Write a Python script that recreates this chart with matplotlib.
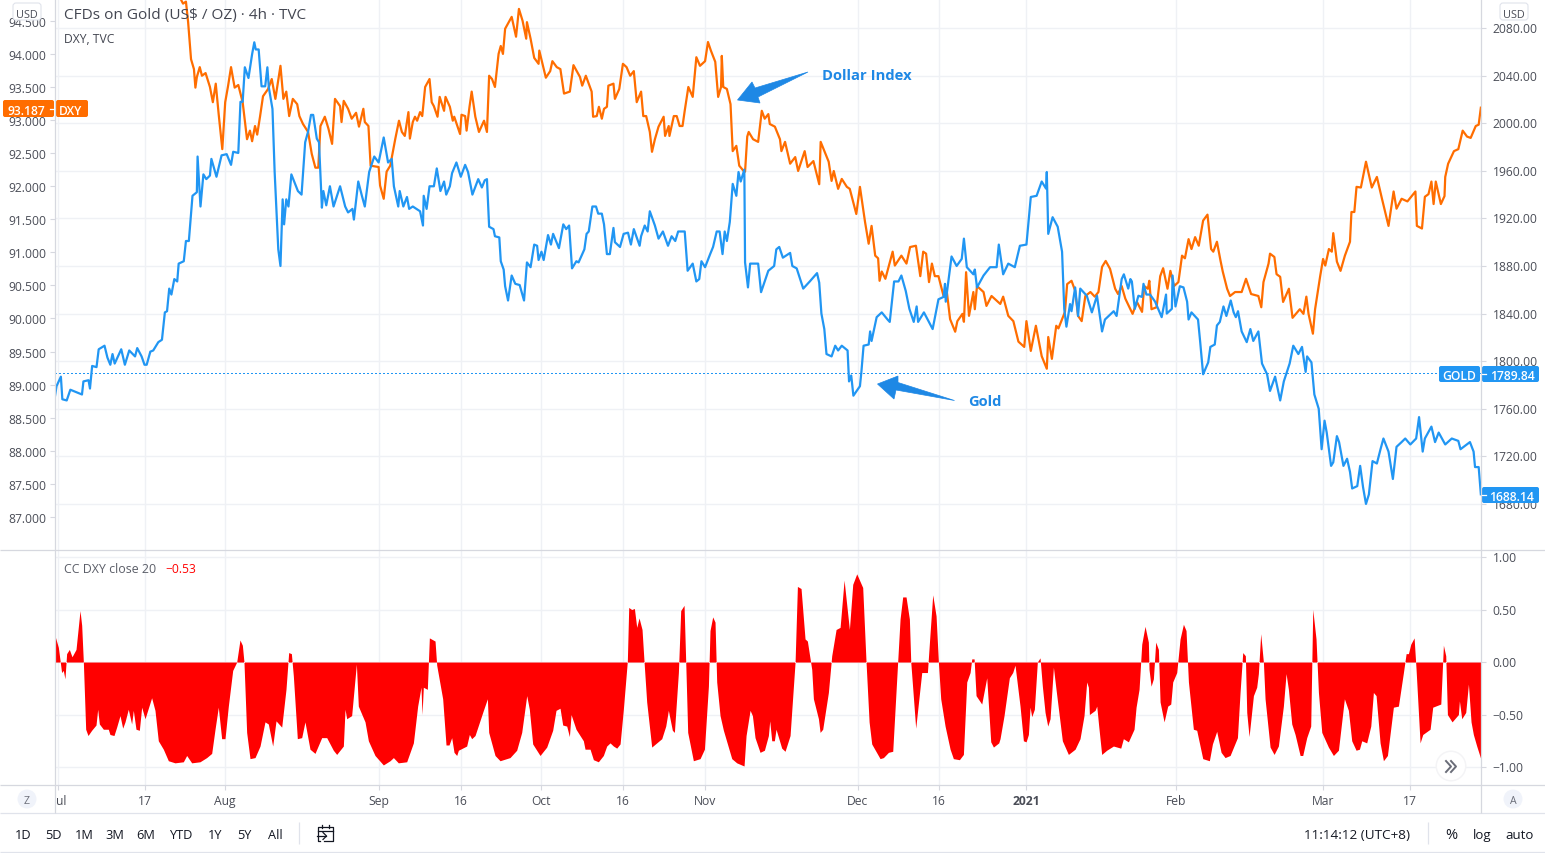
import matplotlib
matplotlib.use("Agg")
import matplotlib.pyplot as plt
from matplotlib.patches import Polygon, Circle, FancyBboxPatch, Rectangle
from matplotlib.transforms import ScaledTranslation

# ---- data: time axis is in trading days counted from 1 Jul 2020 ----
gold_day = [
-0.4,-0.2,0.4,0.6,1.2,1.7,3.3,3.5,4.2,4.4,
4.7,5.3,5.6,6.4,6.8,7.2,7.5,7.8,8.7,9.2,
9.8,10.6,10.9,11.5,11.9,12.2,12.7,13.1,13.8,14.3,
14.7,15.0,15.3,15.6,16.0,16.4,16.6,17.3,17.6,18.0,
18.5,19.1,19.2,19.6,20.0,20.4,20.9,21.1,21.8,22.5,
23.2,23.8,24.1,24.8,25.1,25.4,25.7,26.2,26.7,27.0,
27.2,27.6,28.0,28.5,28.8,29.0,29.5,29.8,30.3,30.6,
30.9,31.1,31.4,31.7,32.1,33.0,33.5,34.0,34.4,34.8,
35.1,35.6,35.9,36.3,36.5,36.9,37.4,37.9,38.8,39.5,
39.9,40.5,40.7,41.3,41.8,42.2,42.8,43.5,44.1,44.8,
45.4,45.9,46.2,46.8,47.0,47.5,48.0,48.3,48.8,49.8,
50.2,50.3,50.7,51.1,51.7,52.1,52.6,53.1,53.4,53.9,
54.2,54.8,55.4,56.0,56.4,57.0,57.8,58.3,58.7,59.0,
59.3,59.9,60.1,60.7,60.9,61.3,61.5,61.9,62.4,62.9,
63.5,64.1,64.5,65.0,65.5,65.9,66.1,66.5,66.8,67.4,
67.8,68.1,68.9,69.5,69.9,70.3,70.7,71.3,71.6,72.4,
72.7,73.0,73.5,74.0,74.3,74.8,75.1,75.5,75.9,76.4,
76.6,77.3,77.8,78.4,78.8,79.2,80.0,80.2,80.7,81.1,
81.4,82.1,82.6,83.2,83.9,84.4,84.9,85.3,86.2,86.6,
87.3,87.8,88.2,88.5,89.0,89.7,90.1,90.6,91.0,91.4,
91.7,92.0,92.4,92.8,93.3,93.6,93.9,94.4,94.5,94.9,
95.2,96.3,96.7,97.7,98.5,98.8,99.2,99.7,100.7,101.0,
101.6,102.5,103.4,104.4,104.7,105.0,105.4,105.7,106.4,106.9,
107.3,107.8,108.6,108.8,109.1,109.4,110.3,110.5,110.8,111.5,
111.7,111.9,112.6,113.3,114.1,114.4,115.0,115.6,116.0,116.6,
117.1,117.7,118.1,118.3,119.1,120.3,121.1,121.8,122.0,122.1,
122.9,123.6,124.3,124.6,125.0,125.9,126.1,126.4,127.3,128.2,
129.1,129.4,130.0,130.7,131.6,132.3,133.2,133.8,134.6,135.3,
135.9,136.0,136.2,136.8,137.5,138.1,138.4,138.7,139.2,139.4,
139.9,140.3,140.6,141.5,142.2,142.9,143.6,144.0,145.2,145.6,
146.3,146.6,147.2,147.5,147.7,148.1,148.6,149.1,149.3,149.7,
150.2,150.9,151.8,152.4,152.5,153.2,153.3,153.7,154.3,154.8,
155.3,155.5,155.9,156.8,157.1,157.5,158.2,158.5,159.1,159.4,
159.8,160.3,160.7,161.3,161.7,162.0,162.3,162.8,163.5,164.0,
164.4,165.1,165.6,166.3,166.7,167.4,168.1,168.6,169.4,169.9,
170.6,171.1,171.6,171.8,172.4,172.8,173.4,173.8,174.2,174.5,
175.1,175.4,175.9,176.2,176.8,177.3,177.7,178.0,178.7,179.1,
179.5,179.9,180.3,180.8,181.4,181.9,182.3,183.0,183.6,184.1,
184.8,185.3,186.0,186.8,187.2,187.7,188.0,188.9,189.4,189.9,
190.8,191.7,192.6,192.9,194.2,194.7,194.9,195.4,195.7]
gold_usd = [
1771,1779,1787,1768,1767,1776,1772,1783,1784,1777,
1796,1795,1810,1813,1803,1797,1806,1798,1810,1797,
1809,1804,1811,1804,1797,1797,1808,1809,1816,1818,
1841,1842,1861,1856,1869,1867,1882,1884,1901,1901,
1939,1942,1972,1930,1957,1953,1956,1970,1955,1973,
1974,1965,1976,1975,2018,2018,2047,2038,2058,2068,
2062,2062,2031,2031,2047,2030,2012,1959,1894,1880,
1936,1915,1936,1930,1957,1943,1940,1984,1993,2007,
2007,1987,1984,1929,1943,1931,1947,1930,1947,1930,
1925,1928,1919,1951,1939,1930,1959,1972,1967,1988,
1967,1970,1947,1930,1943,1930,1938,1928,1930,1926,
1914,1939,1928,1947,1947,1962,1943,1951,1940,1947,
1958,1967,1955,1965,1959,1940,1953,1946,1952,1953,
1913,1911,1905,1904,1884,1877,1863,1851,1872,1865,
1864,1851,1883,1879,1898,1897,1885,1892,1885,1906,
1898,1907,1895,1915,1911,1914,1878,1884,1883,1894,
1907,1909,1930,1930,1924,1924,1915,1890,1890,1912,
1900,1896,1907,1908,1898,1911,1897,1905,1914,1909,
1926,1914,1903,1909,1897,1905,1901,1909,1909,1876,
1882,1867,1869,1884,1879,1890,1896,1909,1909,1890,
1909,1901,1917,1949,1939,1959,1951,1961,1883,1862,
1882,1882,1858,1876,1880,1894,1896,1887,1891,1880,
1878,1861,1867,1874,1866,1840,1827,1806,1804,1813,
1809,1813,1809,1783,1788,1771,1779,1791,1813,1814,
1825,1817,1837,1841,1835,1833,1867,1867,1872,1859,
1844,1833,1846,1833,1841,1827,1852,1854,1865,1850,
1888,1880,1886,1903,1879,1873,1877,1862,1872,1879,
1879,1898,1873,1882,1879,1897,1898,1938,1939,1951,
1945,1959,1907,1921,1913,1892,1844,1829,1848,1842,
1862,1838,1861,1855,1841,1855,1825,1835,1842,1838,
1869,1873,1861,1869,1867,1844,1855,1854,1865,1856,
1856,1850,1837,1856,1840,1844,1872,1846,1863,1862,
1850,1835,1841,1835,1816,1789,1799,1812,1814,1830,
1833,1846,1838,1851,1841,1837,1842,1825,1816,1827,
1817,1825,1798,1789,1775,1787,1767,1783,1798,1813,
1806,1812,1791,1804,1799,1772,1760,1726,1750,1740,
1712,1715,1737,1732,1712,1718,1707,1693,1695,1712,
1694,1680,1688,1716,1714,1726,1735,1724,1701,1728,
1732,1735,1730,1735,1753,1724,1735,1745,1732,1740,
1730,1735,1733,1726,1732,1724,1711,1711,1688.14]

dxy_day = [
16.5,17.2,17.6,17.9,18.3,18.7,18.9,19.1,19.5,19.8,
20.3,20.9,21.3,21.7,22.1,22.6,23.0,23.4,23.8,24.3,
24.8,25.4,26.0,26.4,26.7,27.1,27.4,27.8,28.2,28.9,
29.4,29.9,30.6,31.0,31.4,31.8,32.3,32.9,33.2,33.7,
34.4,34.9,35.4,35.8,36.1,36.7,37.2,37.7,38.1,38.8,
39.0,39.3,39.9,40.4,41.0,41.4,42.0,42.2,42.7,43.0,
44.1,44.3,44.8,45.2,45.7,46.4,46.9,47.3,47.7,48.2,
48.4,48.8,49.1,49.4,49.8,50.1,50.5,51.1,51.4,51.7,
52.2,52.5,53.1,53.3,53.9,54.3,54.5,55.3,55.5,56.0,
56.2,56.6,56.9,57.4,57.9,58.6,59.0,59.3,59.7,60.1,
60.6,60.9,61.2,61.5,62.4,63.0,63.4,63.9,64.4,64.5,
65.0,65.5,66.1,66.2,67.1,67.7,68.0,68.6,69.1,69.6,
70.4,70.9,71.8,72.1,72.6,73.4,73.6,74.1,74.4,74.8,
75.1,75.5,75.7,76.4,76.6,77.2,77.7,78.2,78.7,79.2,
79.6,80.2,80.5,80.9,81.4,81.7,82.1,82.6,83.3,83.5,
84.0,84.1,84.7,85.1,85.5,85.9,86.2,86.7,87.3,87.8,
88.3,89.0,89.4,89.8,90.4,90.8,91.2,91.3,91.5,92.0,
92.5,92.8,93.3,93.7,94.3,94.5,94.8,95.0,95.6,96.3,
96.8,97.2,97.7,97.9,98.6,99.3,99.5,100.0,100.7,101.4,
101.8,102.7,103.1,103.9,104.7,104.9,106.0,106.4,106.7,107.3,
107.8,108.5,108.9,109.8,110.3,111.0,111.5,111.9,112.4,112.8,
113.0,113.3,113.8,114.8,115.1,116.0,116.7,117.2,118.0,118.6,
119.0,119.4,119.8,120.2,120.6,121.1,121.8,122.2,122.7,123.4,
123.7,124.4,124.6,124.9,125.3,125.9,126.1,126.4,127.3,127.7,
128.4,129.6,130.0,130.7,131.4,132.1,132.9,133.2,133.8,134.5,
135.3,136.0,136.2,136.7,137.3,137.6,138.5,138.8,139.4,139.9,
140.3,140.8,141.3,142.0,142.6,143.1,143.6,144.1,144.7,145.4,
145.8,146.3,146.8,147.5,147.8,148.4,149.1,149.4,149.9,150.1,
150.4,151.1,151.6,152.0,152.6,153.0,153.5,154.1,154.6,155.0,
155.5,155.9,156.4,156.9,157.5,158.1,158.6,158.9,159.4,159.9,
160.2,160.8,161.2,161.9,162.8,163.4,164.1,165.1,165.5,165.8,
166.5,166.7,167.3,167.6,168.1,168.5,169.3,169.8,170.8,171.3,
171.7,172.0,172.6,172.9,173.6,174.0,174.3,174.8,175.2,175.4,
175.9,176.4,177.0,177.7,177.9,178.3,178.6,179.2,179.9,180.7,
181.4,182.1,183.0,183.7,184.1,184.8,185.6,186.7,186.9,187.6,
188.0,188.5,188.9,189.2,189.5,190.2,190.7,190.8,191.2,192.0,
192.6,193.2,193.8,194.3,195.0,195.4,195.7]
dxy_close = [
94.91,94.76,94.79,94.48,93.92,93.77,93.49,93.65,93.80,93.67,
93.71,93.50,93.27,93.55,93.09,92.56,93.27,93.52,93.80,93.49,
93.53,93.27,92.71,92.84,92.68,92.91,92.78,93.06,93.36,93.47,
93.62,93.32,93.82,93.32,93.43,93.06,93.32,93.24,93.06,92.94,
92.82,92.49,92.28,92.28,92.91,93.05,92.87,92.64,93.32,93.21,
92.97,93.29,93.17,93.02,93.11,92.90,93.17,92.97,92.91,92.31,
92.29,92.01,91.81,92.22,92.31,92.72,92.99,92.82,92.76,93.12,
92.72,92.97,93.05,92.99,93.12,93.06,93.50,93.62,93.27,93.21,
93.05,93.35,93.14,93.35,93.20,92.99,93.05,92.79,93.08,93.06,
92.84,93.20,93.43,93.05,92.82,92.99,92.82,93.67,93.62,93.50,
94.00,94.12,94.00,94.38,94.56,94.26,94.68,94.50,94.23,94.48,
94.23,93.94,93.85,94.05,93.64,93.74,93.89,93.80,93.77,93.40,
93.43,93.83,93.65,93.52,93.67,93.43,93.05,93.06,93.20,93.02,
93.17,93.20,93.52,93.55,93.32,93.47,93.85,93.80,93.67,93.74,
93.27,93.43,93.06,93.06,92.82,92.52,92.71,92.90,93.05,92.76,
92.91,92.76,93.06,93.06,92.91,92.91,93.14,93.50,93.35,93.95,
93.82,93.89,94.18,94.05,93.88,93.35,93.50,93.97,93.50,93.47,
93.24,92.53,92.61,92.31,92.23,92.22,92.75,92.82,92.71,92.67,
93.14,93.02,93.09,92.94,92.90,92.71,92.53,92.67,92.34,92.44,
92.23,92.53,92.29,92.38,92.03,92.67,92.37,92.08,92.23,91.96,
92.11,91.99,91.96,91.58,91.99,91.46,91.13,91.40,90.95,90.91,
90.57,90.71,90.60,91.01,90.80,90.95,90.83,91.08,91.10,90.64,
91.01,90.98,90.55,90.83,90.64,90.64,90.34,90.45,89.99,89.80,
89.96,90.07,89.95,90.70,90.04,90.40,90.14,90.49,90.40,90.19,
90.34,90.22,90.33,90.04,89.96,89.65,89.57,89.96,89.51,89.89,
89.43,89.24,89.72,89.39,89.89,89.85,90.10,90.52,90.57,90.42,
90.04,89.96,90.34,90.40,90.33,90.40,90.78,90.87,90.75,90.45,
90.37,90.49,90.30,90.14,90.07,90.25,90.10,90.49,90.45,90.57,
90.14,90.17,90.64,90.76,90.45,90.72,90.49,90.55,90.95,90.91,
91.20,91.05,91.23,91.10,91.48,91.57,91.05,91.01,91.16,90.87,
90.71,90.45,90.34,90.40,90.40,90.60,90.37,90.34,90.17,90.55,
90.83,90.98,90.93,90.67,90.63,90.25,90.45,90.01,90.14,90.07,
90.33,90.07,89.77,90.14,90.64,90.90,90.80,91.05,91.01,91.29,
90.86,90.72,90.95,91.16,91.61,91.61,91.99,91.98,92.37,91.98,
92.14,91.81,91.40,91.92,91.66,91.81,91.77,91.92,91.40,91.36,
91.84,91.88,92.07,91.73,92.07,91.73,91.85,92.14,92.34,92.53,
92.56,92.84,92.75,92.73,92.91,92.93,93.187]

cc_day = [
-0.41,0.05,0.37,0.50,0.73,0.96,1.19,1.56,1.93,2.48,
3.03,3.26,3.49,3.81,4.13,4.63,5.23,5.46,5.69,6.24,
6.92,7.15,7.70,8.07,8.53,8.90,9.22,9.67,10.13,10.36,
10.73,11.19,11.51,11.97,12.88,13.34,13.80,14.49,15.18,16.09,
17.24,17.70,18.39,19.53,20.45,21.14,21.60,22.05,22.51,22.97,
23.43,24.03,24.58,25.03,25.36,25.58,25.95,26.41,27.10,27.79,
28.47,28.93,29.53,29.99,30.77,31.36,31.73,32.10,32.37,32.92,
33.52,33.97,34.66,35.35,36.27,36.96,37.87,38.33,39.25,39.48,
39.71,40.39,41.04,41.31,42.23,42.69,43.60,44.75,45.67,46.13,
46.81,47.96,48.88,49.47,49.93,50.07,50.25,50.80,51.08,51.86,
52.09,52.91,53.37,53.78,54.15,54.47,54.84,55.07,56.21,56.58,
56.90,57.36,58.51,59.06,59.24,60.11,60.80,62.17,63.09,63.78,
64.47,64.83,65.29,66.30,67.22,68.04,68.50,69.05,69.42,69.97,
70.34,70.57,71.25,72.26,72.49,73.18,73.64,74.32,75.01,75.47,
75.93,76.39,76.85,77.31,77.76,78.31,78.50,78.91,79.28,79.60,
79.92,80.33,80.61,80.97,81.66,82.35,83.04,83.59,83.95,84.50,
84.78,85.33,85.65,86.11,86.34,86.61,87.39,88.31,88.91,89.46,
89.68,90.05,90.37,90.60,91.06,91.52,92.67,93.35,94.36,94.64,
95.19,95.51,95.87,96.56,97.16,97.71,97.89,98.17,98.53,98.76,
99.54,100.0,100.69,101.38,101.70,102.20,102.75,103.07,103.67,103.90,
104.59,104.82,105.18,105.96,106.42,107.02,107.57,108.12,108.85,109.31,
109.86,110.68,111.14,111.56,111.92,113.07,113.53,114.22,114.81,115.36,
115.82,116.18,116.64,117.10,117.29,117.97,118.80,119.58,119.95,120.31,
120.77,121.09,121.41,122.01,122.70,123.15,123.98,124.53,124.99,125.45,
125.68,126.0,126.27,127.05,127.74,128.29,128.66,129.39,129.57,130.12,
130.85,131.31,131.63,132.32,132.78,133.15,133.47,133.70,133.93,134.29,
134.70,135.07,135.39,135.76,136.13,136.45,136.91,137.27,138.14,138.97,
139.89,140.57,141.12,141.49,141.72,141.86,142.64,142.87,143.14,143.55,
144.24,145.16,146.17,146.53,147.22,148.0,148.28,148.69,149.06,149.51,
149.97,150.06,150.34,150.66,150.98,151.35,151.58,152.13,152.63,153.05,
153.32,153.87,154.33,154.79,155.15,155.48,156.16,156.62,157.45,158.36,
158.78,159.37,159.97,160.52,161.21,162.22,162.58,162.95,163.31,163.50,
163.82,164.42,164.87,165.10,165.42,165.79,166.02,166.71,167.26,167.85,
168.54,168.91,169.23,169.69,170.15,170.84,171.20,171.75,172.30,172.58,
173.03,173.36,173.82,174.73,175.42,176.11,176.93,177.48,177.94,178.54,
179.0,179.32,180.0,180.56,180.92,181.29,181.84,182.30,182.85,183.67,
184.36,185.05,185.42,185.74,186.06,186.52,186.79,187.34,187.71,188.72,
189.08,190.19,190.55,190.87,191.10,191.74,192.61,192.75,193.07,193.62,
193.99,194.35,194.67,195.13,195.68]
cc_value = [
0.25,0.14,-0.03,-0.10,-0.08,-0.16,0.08,0.12,0.05,0.12,
0.49,0.35,0,-0.64,-0.70,-0.65,-0.60,-0.45,-0.59,-0.64,
-0.64,-0.69,-0.70,-0.62,-0.51,-0.63,-0.57,-0.45,-0.59,-0.46,
-0.64,-0.65,-0.43,-0.54,-0.34,-0.46,-0.75,-0.83,-0.94,-0.96,
-0.95,-0.89,-0.96,-0.95,-0.91,-0.87,-0.64,-0.43,-0.73,-0.73,
-0.42,-0.08,0,0.21,0.16,0,-0.67,-0.92,-0.91,-0.80,
-0.57,-0.59,-0.80,-0.56,-0.62,-0.26,0.09,0.08,-0.13,-0.73,
-0.72,-0.57,-0.83,-0.87,-0.72,-0.72,-0.84,-0.88,-0.80,-0.45,
-0.54,-0.51,-0.02,-0.42,-0.57,-0.75,-0.89,-0.98,-0.94,-0.91,
-0.96,-0.95,-0.77,-0.42,-0.24,-0.50,-0.24,-0.26,0.23,0.20,
-0.03,-0.35,-0.79,-0.79,-0.72,-0.86,-0.89,-0.84,-0.80,-0.69,
-0.73,-0.70,-0.46,-0.35,-0.67,-0.89,-0.94,-0.91,-0.84,-0.67,
-0.32,-0.45,-0.78,-0.89,-0.81,-0.65,-0.46,-0.44,-0.60,-0.61,
-0.71,-0.50,-0.64,-0.75,-0.83,-0.83,-0.93,-0.95,-0.89,-0.80,
-0.77,-0.80,-0.82,-0.78,-0.45,0.01,0.52,0.50,0.51,0.33,
0.42,0.31,0,-0.38,-0.81,-0.77,-0.73,-0.61,-0.46,-0.65,
-0.67,-0.10,0.49,0.54,0,-0.67,-0.94,-0.92,-0.83,-0.23,
0.30,0.43,0.38,-0.19,-0.51,-0.65,-0.92,-0.96,-0.99,-0.70,
-0.46,-0.51,-0.72,-0.86,-0.84,-0.70,-0.56,-0.75,-0.75,-0.64,
-0.82,-0.85,-0.70,0,0.72,0.70,0.22,0.20,-0.07,-0.35,
-0.54,-0.67,-0.64,-0.29,0.06,0.31,0.33,0.78,0.31,0.74,
0.84,0.71,0,-0.57,-0.78,-0.92,-0.91,-0.86,-0.85,-0.16,
0.41,0.62,0.62,0.41,0,-0.63,-0.10,-0.10,0.28,0.64,
0.44,0,-0.35,-0.61,-0.83,-0.92,-0.93,-0.88,-0.19,-0.10,
0.03,0.03,-0.32,-0.40,-0.15,-0.76,-0.81,-0.77,-0.73,-0.51,
-0.15,-0.10,-0.03,-0.42,-0.75,-0.76,-0.69,-0.43,-0.52,-0.45,
0,0.04,-0.23,-0.48,-0.61,-0.54,-0.05,-0.26,-0.75,-0.88,
-0.83,-0.73,-0.51,-0.19,-0.24,-0.50,-0.46,-0.42,-0.61,-0.88,
-0.84,-0.80,-0.82,-0.73,-0.76,-0.64,-0.43,-0.26,0.17,0.34,
0.19,-0.07,-0.23,-0.16,0.19,0.12,-0.38,-0.57,-0.42,-0.40,
-0.19,-0.10,0.22,0.36,0.30,-0.19,-0.64,-0.65,-0.92,-0.94,
-0.78,-0.66,-0.86,-0.91,-0.89,-0.72,-0.29,0.09,0.06,-0.48,
-0.71,-0.32,-0.24,-0.11,0.27,0,-0.35,-0.81,-0.88,-0.80,
-0.42,-0.11,-0.26,-0.59,-0.69,-0.89,-0.89,-0.72,-0.61,0.50,
0.22,-0.29,-0.67,-0.81,-0.89,-0.84,-0.35,-0.46,-0.75,-0.84,
-0.83,-0.75,-0.77,-0.61,-0.29,-0.32,-0.77,-0.94,-0.89,-0.43,
-0.42,-0.10,0.08,0.08,0.17,0.23,-0.07,-0.77,-0.69,-0.64,
-0.43,-0.40,0.16,0.06,-0.50,-0.57,-0.50,-0.37,-0.54,-0.48,
-0.21,-0.57,-0.69,-0.80,-0.92]

time_ticks = [0, 12, 23, 44.15, 55.4, 66.4, 77.7, 89, 110, 121.2, 133.2, 153.8, 174, 186]
time_labels = ["ul", "17", "Aug", "Sep", "16", "Oct", "16", "Nov", "Dec", "16", "2021", "Feb", "Mar", "17"]
gold_ticks = [1680, 1720, 1760, 1800, 1840, 1880, 1920, 1960, 2000, 2040, 2080]
dxy_ticks = [87, 87.5, 88, 88.5, 89, 89.5, 90, 90.5, 91, 91.5, 92, 92.5, 93, 93.5, 94, 94.5]
cc_ticks = [-1, -0.5, 0, 0.5, 1]
cc_tick_labels = ["\u22121.00", "\u22120.50", "0.00", "0.50", "1.00"]
gold_prev_close = 1789.84
gold_last = 1688.14
dxy_last = 93.187
ranges = ["1D", "5D", "1M", "3M", "6M", "YTD", "1Y", "5Y", "All"]

# ---- layout ----
W, H = 1545, 854
FONT = "Open Sans"
plt.rcParams["font.family"] = FONT
TXT = "#4a4d57"
GRID = "#eff1f5"
BORDER = "#d6d8df"
BLUE, ORANGE, ARROW = "#2196F3", "#FF6D00", "#1E88E5"
XLIM = (-0.41, 195.72)

fig = plt.figure(figsize=(W / 100, H / 100), dpi=100, facecolor="white")

def rect(x0, y0, x1, y1):
    return [x0 / W, 1 - y1 / H, (x1 - x0) / W, (y1 - y0) / H]

main_box = rect(55, 0, 1481, 551)
ax_bg = fig.add_axes(main_box, zorder=0)
ax_dxy = fig.add_axes(main_box, zorder=1)
ax_gold = fig.add_axes(main_box, zorder=2)
ax_cc = fig.add_axes(rect(55, 551, 1481, 786), zorder=1)

GOLD_LIM = (1641.3, 2104.4)
DXY_LIM = (86.50, 94.83)
for a in (ax_bg, ax_dxy, ax_gold, ax_cc):
    a.set_xlim(*XLIM)
    for s in a.spines.values():
        s.set_visible(False)
ax_dxy.patch.set_visible(False)
ax_gold.patch.set_visible(False)

ax_bg.set_ylim(*GOLD_LIM)
ax_bg.set_yticks(gold_ticks)
ax_bg.set_xticks(time_ticks)
ax_bg.grid(True, color=GRID, lw=1)
ax_bg.tick_params(length=0, labelleft=False, labelbottom=False)

ax_dxy.plot(dxy_day, dxy_close, color=ORANGE, lw=1.6, solid_joinstyle="round")
ax_dxy.set_ylim(*DXY_LIM)
ax_dxy.set_xticks([])
ax_dxy.set_yticks(dxy_ticks)
ax_dxy.set_yticklabels([f"{v:.3f}" for v in dxy_ticks])
ax_dxy.tick_params(axis="y", left=True, length=3.4, width=0.8, color=BORDER,
                   labelsize=8.7, labelcolor=TXT, pad=3)

ax_gold.plot(gold_day, gold_usd, color=BLUE, lw=1.6, solid_joinstyle="round")
ax_gold.axhline(gold_prev_close, color=BLUE, lw=1.0, ls=(0, (1, 1.5)), antialiased=False)
ax_gold.set_ylim(*GOLD_LIM)
ax_gold.set_xticks([])
ax_gold.yaxis.tick_right()
ax_gold.set_yticks(gold_ticks)
ax_gold.set_yticklabels([f"{v:.2f}" for v in gold_ticks])
ax_gold.tick_params(axis="y", right=True, length=3.4, width=0.8, color=BORDER,
                    labelsize=8.7, labelcolor=TXT, pad=5)

ax_cc.fill_between(cc_day, cc_value, 0, color="#FF0000", lw=0)
ax_cc.set_ylim(-1.171, 1.067)
ax_cc.yaxis.tick_right()
ax_cc.set_yticks(cc_ticks)
ax_cc.set_yticklabels(cc_tick_labels)
ax_cc.set_xticks(time_ticks)
ax_cc.set_xticklabels(time_labels)
ax_cc.grid(True, color=GRID, lw=1)
ax_cc.set_axisbelow(True)
ax_cc.tick_params(axis="y", length=3.4, width=0.8, color=BORDER,
                  labelsize=8.7, labelcolor=TXT, pad=5)
ax_cc.tick_params(axis="x", length=3.4, width=0.8, color=BORDER,
                  labelsize=8.7, labelcolor=TXT, pad=2.9)
first = ax_cc.get_xticklabels()[0]
first.set_ha("left")
first.set_transform(first.get_transform() + ScaledTranslation(-2 / 100, 0, fig.dpi_scale_trans))
ax_cc.get_xticklabels()[time_labels.index("2021")].set_fontweight("bold")
for a in (ax_gold, ax_cc):
    for lab in a.get_yticklabels():
        lab.set_transform(lab.get_transform() + ScaledTranslation(0, 1 / 100, fig.dpi_scale_trans))

# ---- interface overlay, measured in screen pixels ----
ov = fig.add_axes([0, 0, 1, 1], zorder=5)
ov.set_xlim(0, W)
ov.set_ylim(H, 0)
ov.axis("off")

def hline(y, x0=0, x1=W, c=BORDER, lw=0.9):
    ov.plot([x0, x1], [y, y], color=c, lw=lw, solid_capstyle="butt")

def vline(x, y0, y1, c=BORDER, lw=0.9):
    ov.plot([x, x], [y0, y1], color=c, lw=lw, solid_capstyle="butt")

hline(551); hline(786); hline(814, c="#e0e3eb"); hline(853, c="#e0e3eb")
vline(55, 0, 814); vline(1481, 0, 814)
vline(299, 823, 845, c="#e0e3eb"); vline(1428, 823, 845, c="#e0e3eb")

def box(x0, y0, x1, y1, color):
    ov.add_patch(FancyBboxPatch((x0 + 1, y0 + 1), x1 - x0 - 2, y1 - y0 - 2,
                                boxstyle="round,pad=1,rounding_size=2", fc=color, ec="none"))

def label(x, y, s, color=TXT, size=8.7, ha="center", weight="normal"):
    return ov.text(x, y, s, color=color, fontsize=size, ha=ha, va="center_baseline", fontweight=weight)

# price tags
box(3, 101, 54, 118, ORANGE); box(56, 101, 88, 118, ORANGE)
label(26, 110, f"{dxy_last:.3f}", "white", 8.7, weight="semibold")
ov.plot([50, 54], [110, 110], color="white", lw=0.9)
label(71, 110, "DXY", "white", 8.7, weight="semibold")
box(1439, 367, 1480, 383, BLUE); box(1482, 367, 1539, 383, BLUE)
label(1459, 375, "GOLD", "white", 8.7, weight="semibold")
label(1512, 375, f"{gold_prev_close:.2f}", "white", 8.7, weight="semibold")
ov.plot([1482, 1486], [375, 375], color="white", lw=0.9)
box(1482, 488, 1539, 504, BLUE)
label(1512, 496, f"{gold_last:.2f}", "white", 8.7, weight="semibold")
ov.plot([1482, 1486], [496, 496], color="white", lw=0.9)

# USD boxes
for x0, x1 in ((13, 41), (1500, 1528)):
    ov.add_patch(FancyBboxPatch((x0 + 1, 5), x1 - x0 - 2, 15, boxstyle="round,pad=1,rounding_size=3",
                                fc="white", ec="#e0e3eb", lw=0.8))
    label((x0 + x1) / 2, 13.5, "USD", TXT, 7.8)

# legends
label(64, 14, "CFDs on Gold (US$ / OZ) \u00b7 4h \u00b7 TVC", "#434651", 11.1, ha="left")
label(64, 38, "DXY, TVC", "#434651", 8.7, ha="left")
label(64, 568, "CC DXY close 20", "#5b5e68", 8.9, ha="left")
label(165, 568, "\u22120.53", "#FF0000", 8.7, ha="left")

# hand-drawn arrows and their captions
ov.add_patch(Polygon([(737.5, 101), (752, 83), (755, 89), (808, 73), (758, 98), (760, 104)],
                     closed=True, fc=ARROW, ec=ARROW, lw=0.5))
ov.add_patch(Polygon([(877.5, 385), (898, 377), (898, 383.5), (954.5, 401.5), (896, 391), (894, 400)],
                     closed=True, fc=ARROW, ec=ARROW, lw=0.5))
label(822, 74, "Dollar Index", ARROW, 10.6, ha="left", weight="bold")
label(968, 401, "Gold", ARROW, 10.6, ha="left", weight="bold")

# circular buttons
ov.add_patch(Circle((27, 800), 9.5, fc="#f0f3fa", ec="none"))
label(27, 800, "Z", "#6a6d78", 7.6)
ov.add_patch(Circle((1513, 800), 9.5, fc="#f0f3fa", ec="none"))
label(1513, 800, "A", "#6a6d78", 7.6)
ov.add_patch(Circle((1451, 767), 15.5, fc="#f4f4f6", ec="none"))
ov.add_patch(Circle((1451, 767), 14, fc="white", ec="none"))
for dx in (0, 5):
    ov.plot([1446 + dx, 1451 + dx, 1446 + dx], [762, 767.5, 773], color="#6a6d78", lw=1.4)

# toolbar
for x, s in zip((23, 53, 84, 115, 146, 181, 215, 244, 275), ranges):
    label(x, 834, s, "#131722", 9.2)
label(1357.5, 834, "11:14:12 (UTC+8)", "#131722", 9.7)
label(1451, 834, "%", "#131722", 10.5)
label(1482, 834, "log", "#131722", 9.5)
label(1520, 834, "auto", "#131722", 9.5)

# calendar icon
ov.plot([320, 317.5, 317.5, 333, 333, 324], [842, 842, 827.5, 827.5, 842, 842], color="#131722", lw=0.9)
ov.plot([317.5, 333], [831.5, 831.5], color="#131722", lw=0.9)
ov.plot([322, 322], [825.5, 829], color="#131722", lw=0.9)
ov.plot([329, 329], [825.5, 829], color="#131722", lw=0.9)
ov.plot([316.5, 326], [837, 837], color="#131722", lw=0.9)
ov.plot([323, 326.5, 323], [833.5, 837, 840.5], color="#131722", lw=0.9)

fig.savefig("out.png", dpi=100, facecolor="white")
